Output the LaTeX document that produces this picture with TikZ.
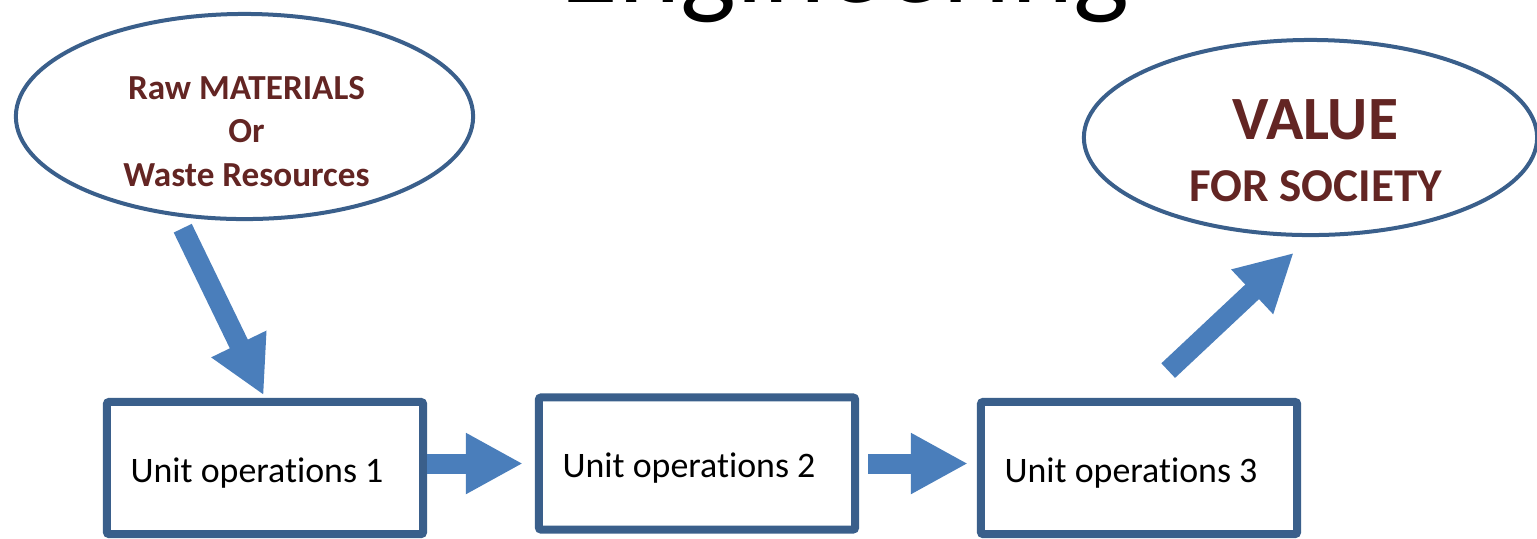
\documentclass[tikz,border=0pt]{standalone}
\usepackage{fontspec}
\setmainfont{Carlito}[Ligatures=NoCommon]
\usepackage{xcolor}
\usetikzlibrary{arrows.meta,positioning,shapes.geometric,calc}
\definecolor{edgeblue}{HTML}{3A5F8B}
\definecolor{arrowblue}{HTML}{4A7EBB}
\definecolor{wine}{HTML}{632523}

\begin{document}
\begin{tikzpicture}[
  x=0.01cm, y=-0.01cm,
  oval/.style={ellipse,draw=edgeblue,line width=0.04cm,inner sep=0pt},
  unitbox/.style={rectangle,draw=edgeblue,line width=0.08cm,rounded corners=0.6pt,minimum width=3.16cm,minimum height=1.32cm,text height=3.5mm,text depth=0.7mm,font=\fontsize{10.2}{12}\selectfont,execute at begin node=\hspace*{-0.16cm}},
  ovaltext/.style={align=center,text=wine,font=\bfseries\fontsize{10}{12.4}\selectfont},
  blockarr/.style={-{Triangle[length=0.57cm,width=0.57cm]},line width=0.2cm,draw=arrowblue}
]
\useasboundingbox (0,0) rectangle (1537,538);
\clip (0,0) rectangle (1537,538);
\node[anchor=base,font=\fontsize{33.6}{40}\selectfont] (title) at (845,2) {Engineering};
\node[oval,minimum width=4.57cm,minimum height=2.05cm] (raw) at (244.5,116.5) {};
\node[ovaltext] (rawtext) at (246.5,131.5) {Raw MATERIALS\\Or\\Waste Resources};
\node[oval,minimum width=4.53cm,minimum height=1.95cm] (value) at (1310.5,137.5) {};
\node[ovaltext,font=\bfseries\fontsize{13.4}{17.6}\selectfont] (valuetext) at (1315.5,151) {{\fontsize{17.5}{17.6}\selectfont VALUE}\\FOR SOCIETY};
\node[unitbox] (op1) at (265,468) {Unit operations 1};
\node[unitbox] (op2) at (697,463.5) {Unit operations 2};
\node[unitbox] (op3) at (1139,468) {Unit operations 3};
\draw[blockarr,shorten <=0.13cm,shorten >=0.03cm] (raw.236) -- (op1.north);
\draw[blockarr,shorten >=0.12cm] (op1.east |- op2.west) -- (op2.west);
\draw[blockarr,shorten <=0.09cm,shorten >=0.09cm] (op2.east) -- (op3.west |- op2.east);
\draw[blockarr,shorten <=0.4cm,shorten >=0.23cm] (op3.north) -- (value.south);
\end{tikzpicture}
\end{document}
